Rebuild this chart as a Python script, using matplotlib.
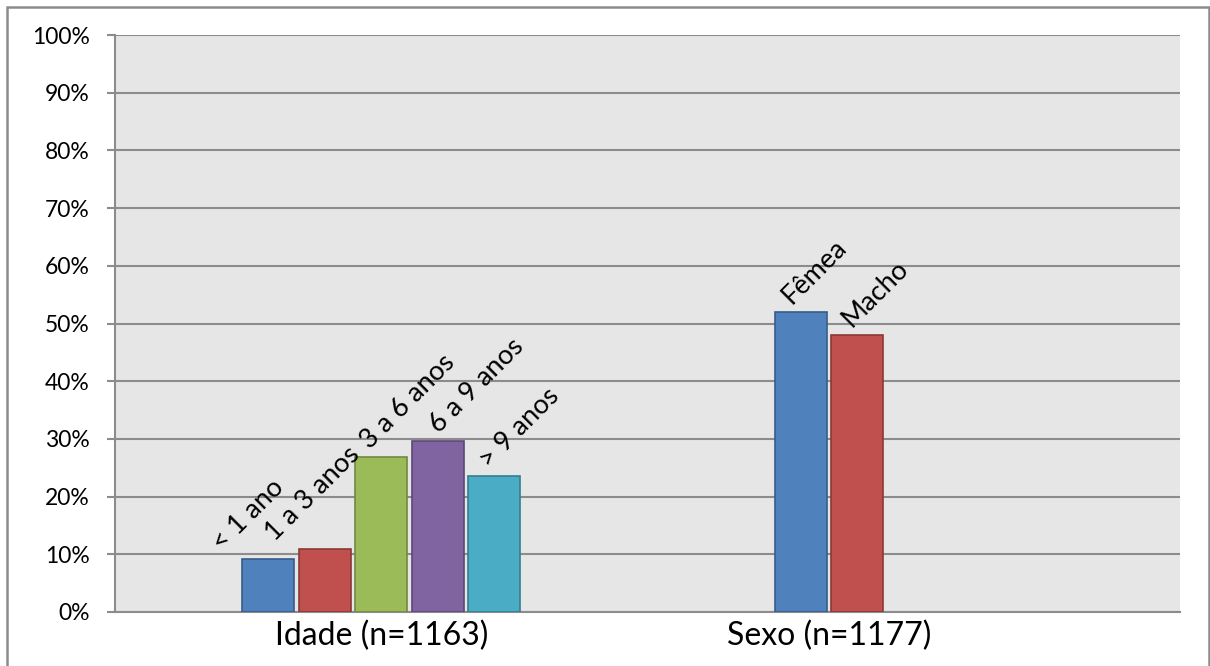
import matplotlib.pyplot as plt
from matplotlib.patches import Rectangle
from matplotlib.ticker import FuncFormatter

plt.rcParams["font.family"] = ["Lato", "DejaVu Sans"]

# Percent of animals in each class
idade_labels = ["< 1 ano", "1 a 3 anos", "3 a 6 anos", "6 a 9 anos", "> 9 anos"]
idade_values = [9.2, 10.9, 26.9, 29.7, 23.6]
sexo_labels = ["Fêmea", "Macho"]
sexo_values = [52.0, 48.0]
group_labels = ["Idade (n=1163)", "Sexo (n=1177)"]

face = ["#4F81BD", "#C0504D", "#9BBB59", "#8064A2", "#4BACC6"]
edge = ["#385D8A", "#8C3836", "#71893F", "#5C4776", "#357D91"]
# small nudges (points) for the rotated labels
label_dx = [-33, -36, -8, 1, -4]

slot = 0.1061
width = 0.0977
n_series = len(idade_labels)

fig = plt.figure(figsize=(12.1, 6.66), dpi=100)
ax = fig.add_axes([0.0950, 0.0811, 0.8802, 0.8663])
ax.set_facecolor("#E6E6E6")

groups = [(0, idade_labels, idade_values), (1, sexo_labels, sexo_values)]
group_centers = []
for g, labels, values in groups:
    xs = [g + (i - (n_series - 1) / 2) * slot for i in range(len(values))]
    group_centers.append(sum(xs) / len(xs))
    for i, (x, v, lab) in enumerate(zip(xs, values, labels)):
        ax.bar(x, v, width=width, color=face[i], edgecolor=edge[i],
               linewidth=1.2, zorder=3)
        dx = label_dx[i] if g == 0 else (-7 if i == 0 else -4)
        ax.annotate(lab, (x, v), xytext=(dx, 5), textcoords="offset points",
                    rotation=45, rotation_mode="anchor", ha="left",
                    va="baseline", fontsize=19.5, zorder=4)

ax.set_xlim(-0.5, 1.5)
ax.set_ylim(0, 100)
ax.set_yticks(range(0, 101, 10))
ax.yaxis.set_major_formatter(FuncFormatter(lambda v, _: f"{v:.0f}%"))
ax.set_xticks(group_centers)
ax.set_xticklabels(group_labels, fontsize=23)

ax.yaxis.grid(True, color="#8C8C8C", linewidth=1.5, zorder=0)
ax.set_axisbelow(True)
ax.tick_params(axis="y", length=6, width=1.5, color="#8C8C8C", pad=12,
               labelsize=16.5)
ax.tick_params(axis="x", length=0, pad=6)
for side in ["top", "right"]:
    ax.spines[side].set_visible(False)
for side in ["left", "bottom"]:
    ax.spines[side].set_color("#8C8C8C")
    ax.spines[side].set_linewidth(1.5)

# outer frame of the chart
fig.patches.append(Rectangle((6.5 / 1210, -0.02), 1202 / 1210, 1.02 - 6.5 / 666,
                             transform=fig.transFigure, fill=False,
                             edgecolor="#8C8C8C", linewidth=1.8))

fig.savefig("out.png", dpi=100)
